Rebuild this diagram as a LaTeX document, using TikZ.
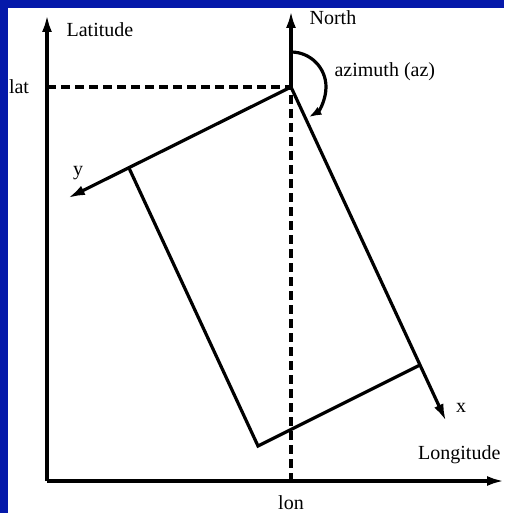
\documentclass[tikz,border=0pt]{standalone}
\usepackage{fontspec}
\setmainfont{Liberation Serif}
\usetikzlibrary{arrows.meta}
\definecolor{slideblue}{RGB}{5,25,170}

\begin{document}
\begin{tikzpicture}[x=1pt,y=-1pt,line width=3.2pt,
    axis/.style={-{Latex[length=17pt,width=10pt]}},
    guide/.style={dash pattern=on 9pt off 5pt},
    lbl/.style={font=\fontsize{20}{24}\selectfont,inner sep=0pt}]
    % slide background
    \fill[slideblue] (0,0) rectangle (504,513);
    \fill[white] (8,8) rectangle (504,513);
    \useasboundingbox (0,0) rectangle (504,513);
    % points of the plot
    \coordinate (O) at (47,481);
    \coordinate (lattip) at (47,15);
    \coordinate (lontip) at (504,481);
    \coordinate (P) at (291,87);
    \coordinate (northtip) at (291,11);
    \coordinate (latpt) at (47,87);
    \coordinate (lonpt) at (291,481);
    \coordinate (ytip) at (68,198);
    \coordinate (xtip) at (446,421);
    \coordinate (ycorner) at (129,168);
    \coordinate (xcorner) at (420,365);
    \coordinate (farcorner) at (258,446);
    % axes
    \draw[axis] (O) -- (lattip);
    \draw[axis] (O) -- (lontip);
    \draw[axis] (P) -- (northtip);
    \draw[guide] (latpt) -- (P) -- (lonpt);
    % rotated frame
    \draw[axis] (P) -- (ytip);
    \draw[axis] (P) -- (xtip);
    \draw (ycorner) -- (farcorner) -- (xcorner);
    \draw[-{Latex[length=13pt,width=9pt]}] (P) ++(-90:35) arc[start angle=-90,end angle=60,radius=35];
    % labels
    \node[lbl,anchor=west] (latitude) at (65,30) {Latitude};
    \node[lbl,anchor=west] (north) at (308,18) {North};
    \node[lbl,anchor=west] (az) at (333,72) {azimuth (az)};
    \node[lbl] (lat) at (19,87) {lat};
    \node[lbl] (lon) at (291,503) {lon};
    \node[lbl] (ylbl) at (78,173) {y};
    \node[lbl] (xlbl) at (461,408) {x};
    \node[lbl,anchor=east] (longitude) at (502,455) {Longitude};
\end{tikzpicture}
\end{document}
